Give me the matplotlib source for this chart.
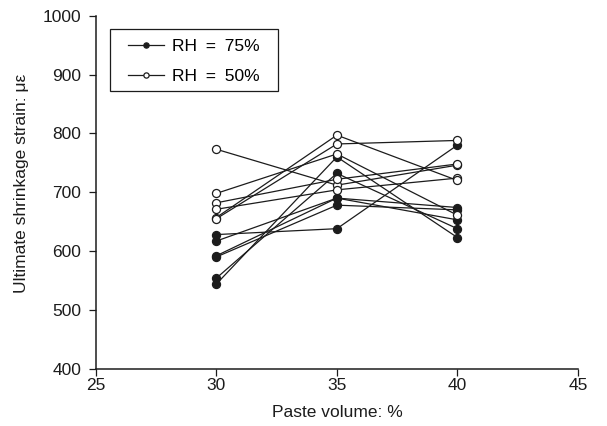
import matplotlib

matplotlib.use("Agg")
import matplotlib.pyplot as plt
from matplotlib.patches import Rectangle

plt.rcParams["font.family"] = ["Liberation Sans", "DejaVu Sans"]

INK = "#1c1c1c"

paste_volume = [30, 35, 40]

# RH = 75 % (filled markers), one list per mix
rh75 = [
    [628, 638, 780],
    [617, 690, 674],
    [592, 690, 653],
    [590, 678, 670],
    [554, 732, 638],
    [544, 760, 623],
]

# RH = 50 % (open markers)
rh50 = [
    [773, 712, 746],
    [698, 765, 661],
    [682, 722, 748],
    [671, 704, 724],
    [657, 797, 720],
    [655, 782, 788],
]

fig = plt.figure(figsize=(6.07, 4.26), dpi=100)
ax = fig.add_axes([0.158, 0.1345, 0.794, 0.8286])

style = dict(color=INK, lw=0.9, ms=5.8, mew=0.9)
for i, ys in enumerate(rh75):
    ax.plot(paste_volume, ys, "-o", mfc=INK, mec=INK,
            label="RH\u2002=\u200275%" if i == 0 else None, zorder=3, **style)
for i, ys in enumerate(rh50):
    ax.plot(paste_volume, ys, "-o", mfc="white", mec=INK,
            label="RH\u2002=\u200250%" if i == 0 else None, zorder=3, **style)

ax.set_xlim(25, 45)
ax.set_ylim(400, 1000)
ax.set_xticks([25, 30, 35, 40, 45])
ax.set_yticks(range(400, 1001, 100))
ax.spines["top"].set_visible(False)
ax.spines["right"].set_visible(False)
for s in ("left", "bottom"):
    ax.spines[s].set_linewidth(1.1)
    ax.spines[s].set_color(INK)
ax.tick_params(direction="out", length=5, width=0.9, labelsize=12.5,
               colors=INK)
ax.tick_params(axis="y", pad=5.5)
ax.tick_params(axis="x", pad=1.5)
ax.set_xlabel("Paste volume: %", fontsize=12.5, color=INK, labelpad=9)
ax.set_ylabel("Ultimate shrinkage strain: με", fontsize=12.5, color=INK)
ax.yaxis.set_label_coords(-0.139, 0.525)

# legend: entries without frame, box drawn separately for the wide padding
leg = ax.legend(loc="upper left", bbox_to_anchor=(0.066, 0.935), fontsize=12.5,
                frameon=False, markerscale=0.65, handlelength=2.1,
                borderpad=0, borderaxespad=0, labelspacing=0.85,
                handletextpad=0.45)
ax.add_patch(Rectangle((0.029, 0.787), 0.349, 0.175, transform=ax.transAxes,
                       fc="none", ec=INK, lw=0.9, clip_on=False, zorder=5))

fig.savefig("out.png")
